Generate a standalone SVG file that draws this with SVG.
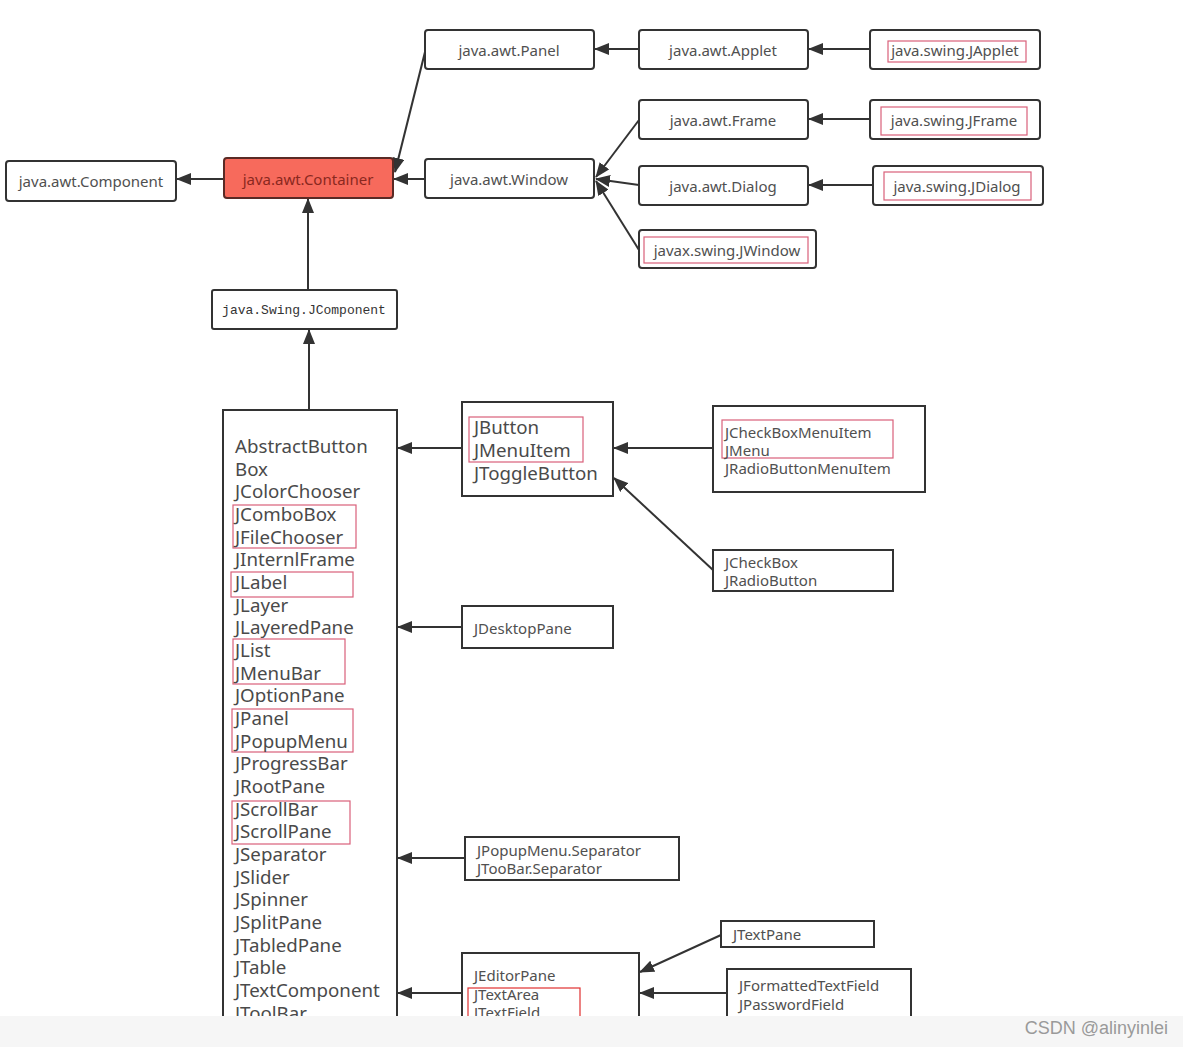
<svg xmlns="http://www.w3.org/2000/svg" width="1183" height="1047" viewBox="0 0 1183 1047">
<style>
.n{fill:#fff;stroke:#333;stroke-width:2}
.b{fill:#fff;stroke:#333;stroke-width:2}
.t{font-family:"Noto Sans","Open Sans",sans-serif;font-size:15px;fill:#505050}
.tc{text-anchor:middle}
.big{font-family:"Noto Sans","Open Sans",sans-serif;font-size:18.7px;fill:#4a4a4a}
.r{fill:none;stroke:#d9607a;stroke-width:1.2}
.c{stroke:#333;stroke-width:2;fill:none;marker-end:url(#arr)}
</style>
<defs>
<marker id="arr" markerWidth="15" markerHeight="12" refX="14" refY="6" orient="auto" markerUnits="userSpaceOnUse"><path d="M0,0 L15,6 L0,12 z" fill="#333"/></marker>
</defs>
<rect width="1183" height="1047" fill="#fff"/>
<g id="connectors">
<line class="c" x1="224" y1="179" x2="177" y2="179"/>
<line class="c" x1="425" y1="52" x2="395" y2="172"/>
<line class="c" x1="425" y1="179" x2="394" y2="179"/>
<line class="c" x1="639" y1="49" x2="595" y2="49"/>
<line class="c" x1="870" y1="49" x2="809" y2="49"/>
<line class="c" x1="870" y1="119" x2="809" y2="119"/>
<line class="c" x1="873" y1="185" x2="809" y2="185"/>
<line class="c" x1="639" y1="120" x2="596" y2="177"/>
<line class="c" x1="639" y1="185" x2="596" y2="179"/>
<line class="c" x1="639" y1="250" x2="596" y2="181"/>
<line class="c" x1="308" y1="290" x2="308" y2="199"/>
<line class="c" x1="309" y1="410" x2="309" y2="330"/>
<line class="c" x1="462" y1="448" x2="398" y2="448"/>
<line class="c" x1="713" y1="448" x2="614" y2="448"/>
<line class="c" x1="713" y1="570" x2="614" y2="478"/>
<line class="c" x1="462" y1="627" x2="398" y2="627"/>
<line class="c" x1="465" y1="858" x2="398" y2="858"/>
<line class="c" x1="462" y1="993" x2="398" y2="993"/>
<line class="c" x1="721" y1="935" x2="640" y2="972"/>
<line class="c" x1="727" y1="993" x2="640" y2="993"/>
</g>
<g id="component"><rect class="n" x="6" y="161" width="170" height="40" rx="3"/><text class="t tc" x="91" y="187">java.awt.Component</text></g>
<g id="container"><rect x="224" y="158" width="169" height="40" rx="3" fill="#f76a5c" stroke="#5a2a25" stroke-width="2"/><text class="t tc" x="308" y="185" style="fill:#8a2820">java.awt.Container</text></g>
<g id="jcomponent"><rect class="n" x="212" y="290" width="185" height="39" rx="2"/><text x="304" y="314" text-anchor="middle" font-family="Liberation Mono, monospace" font-size="13" fill="#333">java.Swing.JComponent</text></g>
<g id="panel"><rect class="n" x="425" y="30" width="169" height="39" rx="3"/><text class="t tc" x="509" y="56">java.awt.Panel</text></g>
<g id="applet"><rect class="n" x="639" y="30" width="169" height="39" rx="3"/><text class="t tc" x="723" y="56">java.awt.Applet</text></g>
<g id="japplet"><rect class="n" x="870" y="30" width="170" height="39" rx="3"/><rect class="r" x="888" y="41" width="138" height="21"/><text class="t tc" x="955" y="56">java.swing.JApplet</text></g>
<g id="window"><rect class="n" x="425" y="159" width="169" height="39" rx="3"/><text class="t tc" x="509" y="185">java.awt.Window</text></g>
<g id="frame"><rect class="n" x="639" y="100" width="169" height="39" rx="3"/><text class="t tc" x="723" y="126">java.awt.Frame</text></g>
<g id="jframe"><rect class="n" x="870" y="100" width="170" height="39" rx="3"/><rect class="r" x="881" y="107" width="146" height="28"/><text class="t tc" x="954" y="126">java.swing.JFrame</text></g>
<g id="dialog"><rect class="n" x="639" y="166" width="169" height="39" rx="3"/><text class="t tc" x="723" y="192">java.awt.Dialog</text></g>
<g id="jdialog"><rect class="n" x="873" y="166" width="170" height="39" rx="3"/><rect class="r" x="884" y="172" width="147" height="28"/><text class="t tc" x="957" y="192">java.swing.JDialog</text></g>
<g id="jwindow"><rect class="n" x="639" y="230" width="177" height="38" rx="3"/><rect class="r" x="644" y="237" width="164" height="26"/><text class="t tc" x="727" y="256">javax.swing.JWindow</text></g>
<g id="bigbox"><rect class="b" x="223" y="410" width="174" height="620"/>
<rect class="r" x="233" y="505" width="123" height="43"/>
<rect class="r" x="231" y="572" width="122" height="25"/>
<rect class="r" x="233" y="639" width="112" height="45"/>
<rect class="r" x="232" y="709" width="121" height="43"/>
<rect class="r" x="232" y="801" width="118" height="43"/>
<text class="big" x="235" y="453"><tspan x="235">AbstractButton</tspan><tspan x="235" dy="22.67">Box</tspan><tspan x="235" dy="22.67">JColorChooser</tspan><tspan x="235" dy="22.67">JComboBox</tspan><tspan x="235" dy="22.67">JFileChooser</tspan><tspan x="235" dy="22.67">JInternlFrame</tspan><tspan x="235" dy="22.67">JLabel</tspan><tspan x="235" dy="22.67">JLayer</tspan><tspan x="235" dy="22.67">JLayeredPane</tspan><tspan x="235" dy="22.67">JList</tspan><tspan x="235" dy="22.67">JMenuBar</tspan><tspan x="235" dy="22.67">JOptionPane</tspan><tspan x="235" dy="22.67">JPanel</tspan><tspan x="235" dy="22.67">JPopupMenu</tspan><tspan x="235" dy="22.67">JProgressBar</tspan><tspan x="235" dy="22.67">JRootPane</tspan><tspan x="235" dy="22.67">JScrollBar</tspan><tspan x="235" dy="22.67">JScrollPane</tspan><tspan x="235" dy="22.67">JSeparator</tspan><tspan x="235" dy="22.67">JSlider</tspan><tspan x="235" dy="22.67">JSpinner</tspan><tspan x="235" dy="22.67">JSplitPane</tspan><tspan x="235" dy="22.67">JTabledPane</tspan><tspan x="235" dy="22.67">JTable</tspan><tspan x="235" dy="22.67">JTextComponent</tspan><tspan x="235" dy="22.67">JToolBar</tspan></text>
</g>
<g id="jbutton"><rect class="b" x="462" y="402" width="151" height="94"/><rect class="r" x="469" y="417" width="114" height="45"/><text class="big" x="474" y="434"><tspan x="474">JButton</tspan><tspan x="474" dy="23">JMenuItem</tspan><tspan x="474" dy="23">JToggleButton</tspan></text></g>
<g id="jcheckboxmenuitem"><rect class="b" x="713" y="406" width="212" height="86"/><rect class="r" x="722" y="420" width="171" height="38"/><text class="t" x="725" y="438"><tspan x="725">JCheckBoxMenuItem</tspan><tspan x="725" dy="18">JMenu</tspan><tspan x="725" dy="18">JRadioButtonMenuItem</tspan></text></g>
<g id="jcheckbox"><rect class="b" x="713" y="550" width="180" height="41"/><text class="t" x="725" y="568"><tspan x="725">JCheckBox</tspan><tspan x="725" dy="18">JRadioButton</tspan></text></g>
<g id="jdesktoppane"><rect class="b" x="462" y="606" width="151" height="42"/><text class="t" x="474" y="634">JDesktopPane</text></g>
<g id="separator"><rect class="b" x="465" y="837" width="214" height="43"/><text class="t" x="477" y="856"><tspan x="477">JPopupMenu.Separator</tspan><tspan x="477" dy="18">JTooBar.Separator</tspan></text></g>
<g id="jeditorpane"><rect class="b" x="462" y="953" width="177" height="80"/><rect x="468" y="988" width="112" height="40" fill="none" stroke="#e03030" stroke-width="1.2"/><text class="t" x="474" y="981"><tspan x="474">JEditorPane</tspan><tspan x="474" dy="19">JTextArea</tspan><tspan x="474" dy="18">JTextField</tspan></text></g>
<g id="jtextpane"><rect class="b" x="721" y="921" width="153" height="26"/><text class="t" x="733" y="940">JTextPane</text></g>
<g id="jformatted"><rect class="b" x="727" y="969" width="184" height="60"/><text class="t" x="739" y="991"><tspan x="739">JFormattedTextField</tspan><tspan x="739" dy="19">JPasswordField</tspan></text></g>
<rect x="0" y="1016" width="1183" height="31" fill="#f6f6f6"/>
<text x="1168" y="1034" text-anchor="end" font-family="Liberation Sans, Arial, sans-serif" font-size="18" fill="#9a9a9a">CSDN @alinyinlei</text>
</svg>
